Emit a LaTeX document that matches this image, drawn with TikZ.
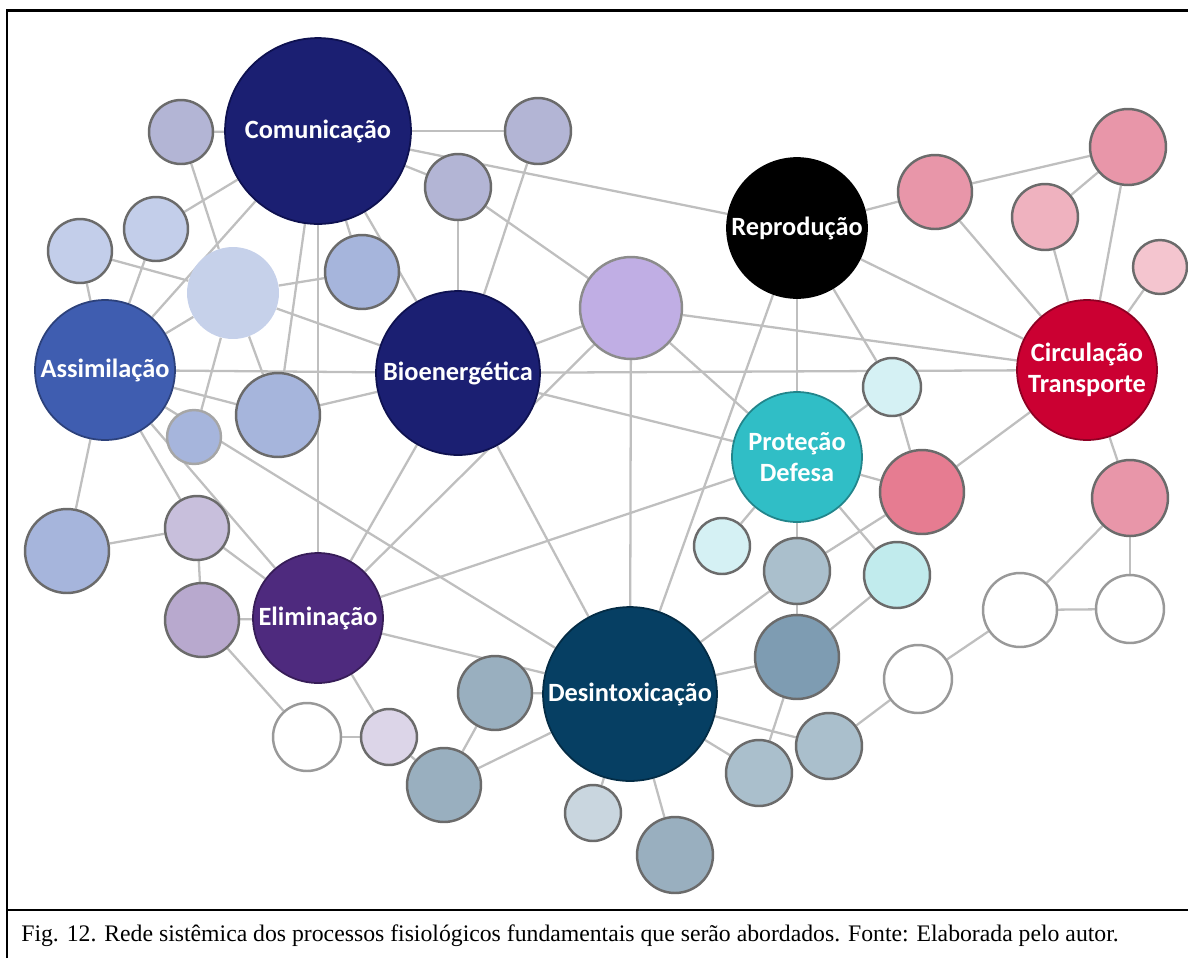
\documentclass[tikz,border=0pt]{standalone}
\usepackage{fontspec}
\setmainfont{Liberation Serif}
\newfontfamily\labelfont{Carlito}
\usetikzlibrary{backgrounds}
\definecolor{navyhub}{HTML}{1B1F72}
\definecolor{navyedge}{HTML}{0E1150}
\definecolor{assimblue}{HTML}{3F5DB0}
\definecolor{elimpurple}{HTML}{4E2A7E}
\definecolor{desteal}{HTML}{063F63}
\definecolor{protcyan}{HTML}{30BEC6}
\definecolor{circred}{HTML}{CB0032}
\definecolor{greylilac}{HTML}{B3B5D5}
\definecolor{paleblue}{HTML}{C3CEEA}
\definecolor{ghostblue}{HTML}{C6D1EA}
\definecolor{midblue}{HTML}{A6B5DC}
\definecolor{lavender}{HTML}{C0AEE4}
\definecolor{mistlilac}{HTML}{C8BFDC}
\definecolor{dustlilac}{HTML}{B8A9CE}
\definecolor{whisperlilac}{HTML}{DCD5E8}
\definecolor{slate}{HTML}{99AFBF}
\definecolor{slatelight}{HTML}{AABFCC}
\definecolor{slatepale}{HTML}{C9D6DF}
\definecolor{slatedark}{HTML}{7E9CB2}
\definecolor{icecyan}{HTML}{D5F1F4}
\definecolor{aquapale}{HTML}{C1EBED}
\definecolor{rosemid}{HTML}{E896A9}
\definecolor{roselight}{HTML}{EFB2BF}
\definecolor{rosepale}{HTML}{F4C5CF}
\definecolor{rosedeep}{HTML}{E67C91}
\tikzset{
    hub/.style={circle, inner sep=0pt, line width=1pt, align=center, text=white, font=\labelfont\bfseries\fontsize{15}{17.8}\selectfont, minimum size=#1*0.04cm},
    leaf/.style={circle, inner sep=0pt, draw=black!58, line width=1.4pt, minimum size=#1*0.04cm},
    hollow/.style={leaf=#1, draw=black!40, fill=white},
    link/.style={draw=black!25, line width=1.3pt},
    frameline/.style={line width=1.6pt}
}

\begin{document}
\begin{tikzpicture}[x=0.02cm, y=-0.02cm]
        \useasboundingbox (0,0) rectangle (1188,958);
        % main processes
        \node[hub=93, fill=navyhub, draw=navyedge] (com) at (318,131) {Comunicação};
        \node[hub=82, fill=navyhub, draw=navyedge] (bio) at (458,373) {Bioenergética};
        \node[hub=70, fill=assimblue, draw=assimblue!70!black] (assim) at (105,370) {Assimilação};
        \node[hub=65, fill=elimpurple, draw=elimpurple!70!black] (elim) at (318,618) {Eliminação};
        \node[hub=87, fill=desteal, draw=desteal!70!black] (des) at (630,694) {Desintoxicação};
        \node[hub=70, fill=black, draw=black] (rep) at (797,228) {Reprodução};
        \node[hub=65, fill=protcyan, draw=protcyan!70!black] (prot) at (797,457) {Proteção\\Defesa};
        \node[hub=70, fill=circred, draw=circred!70!black] (circ) at (1087,370) {Circulação\\Transporte};
        % blue and lilac satellites
        \node[leaf=32, fill=greylilac] (a1) at (181,132) {};
        \node[leaf=33, fill=greylilac] (a2) at (538,131) {};
        \node[leaf=33, fill=greylilac] (a3) at (458,187) {};
        \node[leaf=32, fill=paleblue] (a4) at (156,229) {};
        \node[leaf=32, fill=paleblue] (a5) at (80,251) {};
        \node[circle, inner sep=0pt, minimum size=46*0.04cm, fill=ghostblue] (a6) at (233,293) {};
        \node[leaf=37, fill=midblue] (a7) at (362,272) {};
        \node[leaf=51, fill=lavender, draw=black!45] (a8) at (631,308) {};
        \node[leaf=42, fill=midblue] (a9) at (278,415) {};
        \node[leaf=27, fill=midblue, draw=black!35] (a10) at (194,437) {};
        \node[leaf=42, fill=midblue] (a11) at (67,551) {};
        \node[leaf=32, fill=mistlilac] (a12) at (197,528) {};
        \node[leaf=37, fill=dustlilac] (a13) at (202,620) {};
        \node[hollow=34] (a14) at (307,737) {};
        \node[leaf=28, fill=whisperlilac] (a15) at (389,737) {};
        % slate satellites
        \node[leaf=37, fill=slate] (b1) at (495,693) {};
        \node[leaf=37, fill=slate] (b2) at (444,785) {};
        \node[leaf=28, fill=slatepale] (b3) at (593,813) {};
        \node[leaf=38, fill=slate] (b4) at (675,855) {};
        \node[leaf=33, fill=slatelight] (b5) at (759,773) {};
        \node[leaf=42, fill=slatedark] (b6) at (797,657) {};
        \node[leaf=33, fill=slatelight] (b7) at (829,746) {};
        \node[leaf=33, fill=slatelight] (b8) at (797,571) {};
        % cyan satellites
        \node[leaf=29, fill=icecyan] (c1) at (892,387) {};
        \node[leaf=28, fill=icecyan] (c2) at (722,546) {};
        \node[leaf=33, fill=aquapale] (c3) at (897,575) {};
        % rose satellites
        \node[leaf=37, fill=rosemid] (d1) at (935,192) {};
        \node[leaf=33, fill=roselight] (d2) at (1045,217) {};
        \node[leaf=38, fill=rosemid] (d3) at (1128,147) {};
        \node[leaf=27, fill=rosepale] (d4) at (1160,267) {};
        \node[leaf=42, fill=rosedeep] (d5) at (922,492) {};
        \node[leaf=38, fill=rosemid] (d6) at (1130,498) {};
        % empty satellites
        \node[hollow=37] (e1) at (1020,610) {};
        \node[hollow=34] (e2) at (1130,609) {};
        \node[hollow=34] (e3) at (918,679) {};
        % caption and frame
        \node[anchor=west, font=\fontsize{13.5}{16}\selectfont, inner sep=0pt] (caption) at (21,936) {Fig. 12. Rede sistêmica dos processos fisiológicos fundamentais que serão abordados. Fonte: Elaborada pelo autor.};
        \draw[frameline] (7,958) -- (7,10.5) -- (1188,10.5);
        \draw[frameline] (7,910) -- (1188,910);
        \begin{pgfonlayer}{background}
        \draw[link] (com) -- (a1);
        \draw[link] (com) -- (a2);
        \draw[link] (com) -- (a3);
        \draw[link] (com) -- (a4);
        \draw[link] (com) -- (assim);
        \draw[link] (com) -- (a9);
        \draw[link] (com) -- (elim);
        \draw[link] (com) -- (a7);
        \draw[link] (com) -- (bio);
        \draw[link] (com) -- (rep);
        \draw[link] (a1) -- (a6);
        \draw[link] (a5) -- (a6);
        \draw[link] (a4) -- (assim);
        \draw[link] (a5) -- (assim);
        \draw[link] (assim) -- (a6);
        \draw[link] (a6) -- (a7);
        \draw[link] (a6) -- (bio);
        \draw[link] (a6) -- (a9);
        \draw[link] (a6) -- (a10);
        \draw[link] (assim) -- (bio);
        \draw[link] (assim) -- (a9);
        \draw[link] (a9) -- (bio);
        \draw[link] (assim) -- (elim);
        \draw[link] (assim) -- (des);
        \draw[link] (assim) -- (a11);
        \draw[link] (assim) -- (a12);
        \draw[link] (a11) -- (a12);
        \draw[link] (a12) -- (a13);
        \draw[link] (a12) -- (elim);
        \draw[link] (a13) -- (elim);
        \draw[link] (a13) -- (a14);
        \draw[link] (a14) -- (a15);
        \draw[link] (elim) -- (a15);
        \draw[link] (a15) -- (b2);
        \draw[link] (b2) -- (b1);
        \draw[link] (b2) -- (des);
        \draw[link] (b1) -- (des);
        \draw[link] (des) -- (b3);
        \draw[link] (des) -- (b4);
        \draw[link] (des) -- (b5);
        \draw[link] (des) -- (b7);
        \draw[link] (des) -- (b6);
        \draw[link] (des) -- (b8);
        \draw[link] (b6) -- (b5);
        \draw[link] (b6) -- (b8);
        \draw[link] (b6) -- (c3);
        \draw[link] (e3) -- (b7);
        \draw[link] (e3) -- (e1);
        \draw[link] (e1) -- (e2);
        \draw[link] (e1) -- (d6);
        \draw[link] (d6) -- (e2);
        \draw[link] (d6) -- (circ);
        \draw[link] (d5) -- (circ);
        \draw[link] (d5) -- (b8);
        \draw[link] (prot) -- (d5);
        \draw[link] (prot) -- (c1);
        \draw[link] (c1) -- (d5);
        \draw[link] (rep) -- (c1);
        \draw[link] (prot) -- (c2);
        \draw[link] (prot) -- (b8);
        \draw[link] (prot) -- (c3);
        \draw[link] (rep) -- (prot);
        \draw[link] (rep) -- (des);
        \draw[link] (rep) -- (circ);
        \draw[link] (rep) -- (d1);
        \draw[link] (d1) -- (d3);
        \draw[link] (d2) -- (d3);
        \draw[link] (d1) -- (circ);
        \draw[link] (d2) -- (circ);
        \draw[link] (d3) -- (circ);
        \draw[link] (d4) -- (circ);
        \draw[link] (bio) -- (circ);
        \draw[link] (a8) -- (circ);
        \draw[link] (a8) -- (prot);
        \draw[link] (a8) -- (des);
        \draw[link] (a8) -- (elim);
        \draw[link] (bio) -- (a8);
        \draw[link] (bio) -- (prot);
        \draw[link] (bio) -- (elim);
        \draw[link] (bio) -- (des);
        \draw[link] (elim) -- (prot);
        \draw[link] (elim) -- (des);
        \draw[link] (a2) -- (bio);
        \draw[link] (a3) -- (bio);
        \draw[link] (a3) -- (a8);
        \end{pgfonlayer}
    \end{tikzpicture}
\end{document}
